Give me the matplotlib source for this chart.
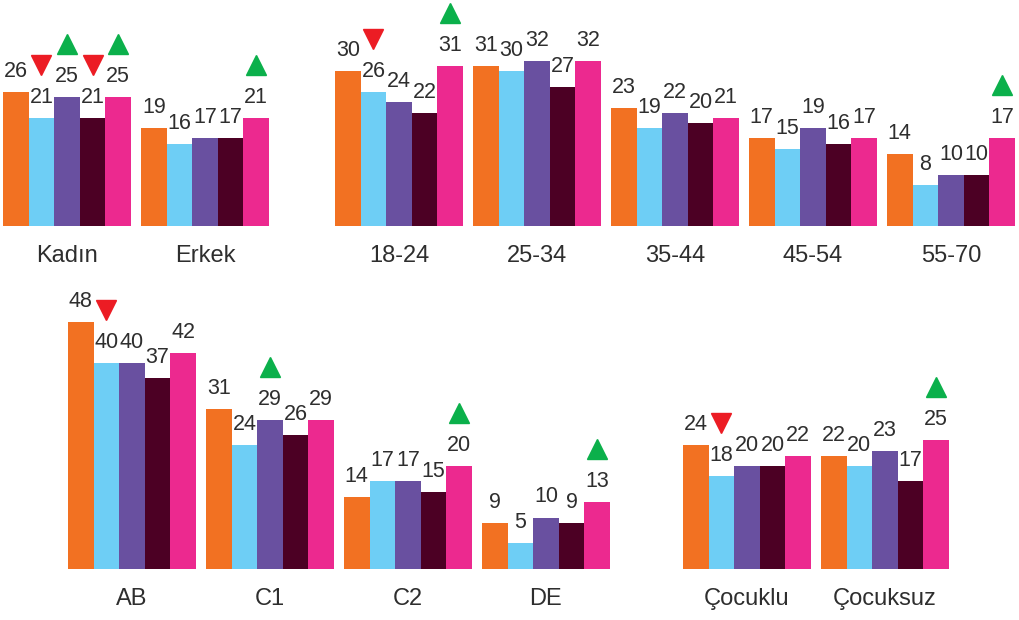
import matplotlib.pyplot as plt
import numpy as np
from matplotlib.transforms import offset_copy

plt.rcParams['font.family'] = ['Liberation Sans', 'DejaVu Sans']

# five series per group: orange, light blue, purple, maroon, pink
colors = ['#F27122', '#6ECEF5', '#6950A0', '#4C0024', '#EC298F']
up_color = '#0BB04B'
down_color = '#EC1C24'
text_color = '#2E2E2E'

gender_cats = ['Kadın', 'Erkek']
gender_vals = [[26, 21, 25, 21, 25],
               [19, 16, 17, 17, 21]]
gender_marks = [['', 'down', 'up', 'down', 'up'],
                ['', '', '', '', 'up']]

age_cats = ['18-24', '25-34', '35-44', '45-54', '55-70']
age_vals = [[30, 26, 24, 22, 31],
            [31, 30, 32, 27, 32],
            [23, 19, 22, 20, 21],
            [17, 15, 19, 16, 17],
            [14, 8, 10, 10, 17]]
age_marks = [['', 'down', '', '', 'up'],
             ['', '', '', '', ''],
             ['', '', '', '', ''],
             ['', '', '', '', ''],
             ['', '', '', '', 'up']]

ses_cats = ['AB', 'C1', 'C2', 'DE']
ses_vals = [[48, 40, 40, 37, 42],
            [31, 24, 29, 26, 29],
            [14, 17, 17, 15, 20],
            [9, 5, 10, 9, 13]]
ses_marks = [['', 'down', '', '', ''],
             ['', '', 'up', '', ''],
             ['', '', '', '', 'up'],
             ['', '', '', '', 'up']]

child_cats = ['Çocuklu', 'Çocuksuz']
child_vals = [[24, 18, 20, 20, 22],
              [22, 20, 23, 17, 25]]
child_marks = [['', 'down', '', '', ''],
               ['', '', '', '', 'up']]

W, H = 1019, 620
BAR_PX = 25.6      # bar width in pixels
UNIT_PX = 5.15     # pixels per value unit
STEP = 5.39        # group spacing in bar widths

fig = plt.figure(figsize=(W / 100, H / 100), dpi=100)


def draw_panel(x0, y_base, ytop, cats, vals, marks):
    n = len(cats)
    xmax = (n - 1) * STEP + 5
    ax = fig.add_axes([x0 / W, (H - y_base) / H, xmax * BAR_PX / W, ytop * UNIT_PX / H])
    ax.set_xlim(0, xmax)
    ax.set_ylim(0, ytop)
    ax.axis('off')
    vals = np.array(vals)
    lab_tr = offset_copy(ax.transData, fig=fig, y=15, units='dots')
    tri_tr = offset_copy(ax.transData, fig=fig, y=53, units='dots')
    cat_tr = offset_copy(ax.transData, fig=fig, y=-30, units='dots')
    starts = np.arange(n) * STEP
    for j in range(5):
        xs = starts + j + 0.5
        ax.bar(xs, vals[:, j], width=1.0, color=colors[j], linewidth=0)
        for i in range(n):
            v = vals[i, j]
            ax.text(xs[i], v, str(v), transform=lab_tr, ha='center', va='baseline',
                    fontsize=15.5, color=text_color, clip_on=False)
            m = marks[i][j]
            if m:
                ax.plot(xs[i], v, marker='^' if m == 'up' else 'v', ms=14,
                        color=up_color if m == 'up' else down_color,
                        transform=tri_tr, clip_on=False, linestyle='none')
    for i, c in enumerate(cats):
        ax.text(starts[i] + 2.5, 0, c, transform=cat_tr, ha='center', va='center',
                fontsize=17, color=text_color, clip_on=False)
    return ax


draw_panel(3, 226, 43.9, gender_cats, gender_vals, gender_marks)
draw_panel(335, 226, 43.9, age_cats, age_vals, age_marks)
draw_panel(68, 569, 54.2, ses_cats, ses_vals, ses_marks)
draw_panel(683, 569, 54.2, child_cats, child_vals, child_marks)

fig.savefig('out.png', dpi=100)
